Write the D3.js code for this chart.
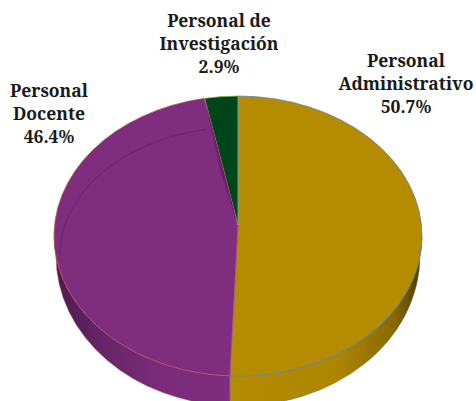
<!DOCTYPE html>
<html>
<head>
<meta charset="utf-8">
<script src="https://cdn.jsdelivr.net/npm/d3@7"></script>
<style>
  html, body { margin: 0; padding: 0; background: #ffffff; }
  svg { display: block; }
</style>
</head>
<body>
<div id="chart"></div>
<script>
// Personnel breakdown (percent of total staff)
const categories = ["Personal Administrativo", "Personal Docente", "Personal de Investigación"];
const values = [50.7, 46.4, 2.9];
const labelLines = [["Personal", "Administrativo"], ["Personal", "Docente"], ["Personal de", "Investigación"]];

const topColors = ["#b58c00", "#7f2d7f", "#00441a"];
const edgeColors = ["#4f81bd", "#c0504d", "#9bbb59"];

const W = 476, H = 401;
// Tilted pie geometry: top ellipse, apex nudged up for perspective, rim below
const geo = { cx: 238, cy: 236, rx: 184, ry: 140, ax: 238, ay: 225, depth: 20, extraRy: 10 };
const labelLayout = [
  { x: 406, y: 67 },
  { x: 49, y: 97 },
  { x: 219, y: 27 }
];
const lineH = 23;

const svg = d3.select("#chart").append("svg")
  .attr("width", W).attr("height", H);

const defs = svg.append("defs");

const pie = d3.pie().sort(null).startAngle(0).endAngle(2 * Math.PI);
const arcs = pie(values);

// angle -> point on the top rim ellipse / bottom rim ellipse
const topPt = a => [geo.cx + geo.rx * Math.sin(a), geo.cy - geo.ry * Math.cos(a)];
const botRx = geo.rx - 2, botRy = geo.ry + geo.extraRy, botCy = geo.cy + geo.depth;
const botPt = a => [geo.cx + botRx * Math.sin(a), botCy - botRy * Math.cos(a)];

function topPath(d) {
  const p0 = topPt(d.startAngle), p1 = topPt(d.endAngle);
  const large = (d.endAngle - d.startAngle) > Math.PI ? 1 : 0;
  return `M${geo.ax},${geo.ay}L${p0[0]},${p0[1]}A${geo.rx},${geo.ry} 0 ${large} 1 ${p1[0]},${p1[1]}Z`;
}

function sidePath(a0, a1) {
  const t0 = topPt(a0), t1 = topPt(a1), b0 = botPt(a0), b1 = botPt(a1);
  return `M${t0[0]},${t0[1]}A${geo.rx},${geo.ry} 0 0 1 ${t1[0]},${t1[1]}` +
         `L${b1[0]},${b1[1]}A${botRx},${botRy} 0 0 0 ${b0[0]},${b0[1]}Z`;
}

// Side shading gradients
const sideStops = [
  [[0, "#b58c00"], [0.55, "#ad8600"], [0.85, "#8a6a00"], [1, "#4e3c00"]],
  [[0, "#4a1a4d"], [0.25, "#652466"], [0.6, "#7a2b7a"], [1, "#7f2d7f"]],
  [[0, "#003010"], [1, "#003010"]]
];
sideStops.forEach((stops, i) => {
  const g = defs.append("linearGradient").attr("id", "side" + i)
    .attr("gradientUnits", "userSpaceOnUse")
    .attr("x1", i === 0 ? 229 : geo.cx - geo.rx).attr("x2", i === 0 ? geo.cx + geo.rx : 232)
    .attr("y1", 0).attr("y2", 0);
  stops.forEach(s => g.append("stop").attr("offset", s[0]).attr("stop-color", s[1]));
});

// Rim: only the front half (angles between PI/2 and 3PI/2) is visible
const sideG = svg.append("g");
arcs.forEach((d, i) => {
  const a0 = Math.max(d.startAngle, Math.PI / 2);
  const a1 = Math.min(d.endAngle, 3 * Math.PI / 2);
  if (a1 <= a0) return;
  sideG.append("path")
    .attr("d", sidePath(a0, a1))
    .attr("fill", `url(#side${i})`)
    .attr("stroke", edgeColors[i]).attr("stroke-opacity", 0.55).attr("stroke-width", 0.8);
});

// Top faces
const topG = svg.append("g");
topG.selectAll("path.slice").data(arcs).join("path")
  .attr("class", "slice")
  .attr("d", topPath)
  .attr("fill", (d, i) => topColors[i])
  .attr("stroke", (d, i) => edgeColors[i])
  .attr("stroke-width", 1)
  .attr("stroke-opacity", 0.75)
  .attr("stroke-linejoin", "round");

// Bevel line on the large left slice
const doc = arcs[1];
const bev = { cx: 240, cy: 255, rx: 180, ry: 128 };
const bevPt = a => [bev.cx + bev.rx * Math.sin(a), bev.cy - bev.ry * Math.cos(a)];
const bs = bevPt(doc.endAngle - 0.01), be = bevPt(1.5 * Math.PI);
topG.append("path")
  .attr("d", `M${bs[0]},${bs[1]}A${bev.rx},${bev.ry} 0 0 0 ${be[0]},${be[1]}`)
  .attr("fill", "none").attr("stroke", "#5e1f60").attr("stroke-opacity", 0.45).attr("stroke-width", 1.2);

// Inner wall between the left slice and the small slice
const wp = topPt(doc.endAngle);
const wm = [wp[0] + (geo.ax - wp[0]) * 0.6 - 3.5, wp[1] + (geo.ay - wp[1]) * 0.6];
topG.append("path")
  .attr("d", `M${wp[0]},${wp[1]}L${wm[0]},${wm[1]}L${geo.ax},${geo.ay}Z`)
  .attr("fill", "#6a2069");

// Labels
const lab = svg.append("g").selectAll("text").data(arcs).join("text")
  .attr("text-anchor", "middle")
  .attr("font-family", "'Noto Serif', 'Liberation Serif', serif")
  .attr("font-weight", "bold")
  .attr("font-size", 17.5)
  .attr("fill", "#1a1a1a");
lab.each(function (d, i) {
  const t = d3.select(this);
  const lines = labelLines[i].concat([d3.format(".1f")(values[i]) + "%"]);
  lines.forEach((s, k) => {
    t.append("tspan")
      .attr("x", labelLayout[i].x)
      .attr("y", labelLayout[i].y + k * lineH)
      .text(s);
  });
});
</script>
</body>
</html>
